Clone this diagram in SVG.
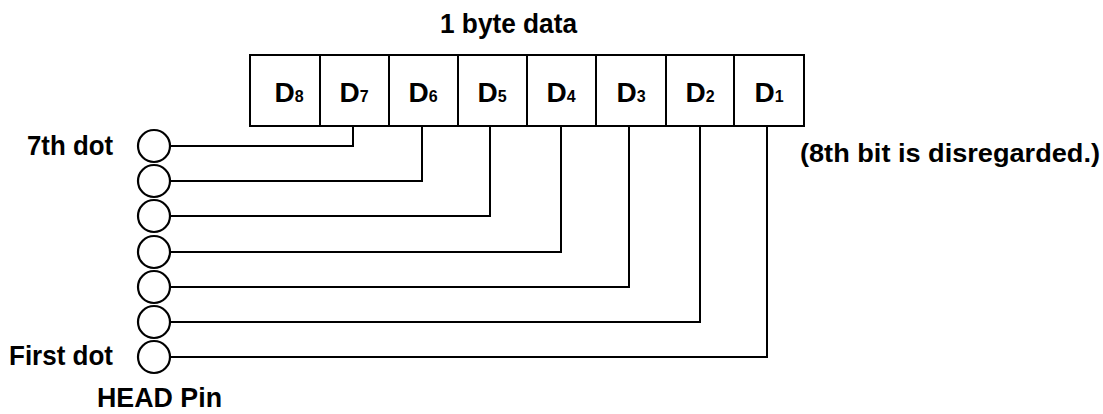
<svg xmlns="http://www.w3.org/2000/svg" width="1103" height="414" viewBox="0 0 1103 414">
<style>
text{font-family:"Liberation Sans",Arial,sans-serif;font-weight:bold;fill:#000}
.lbl{font-size:28px}
.note{font-size:26px}
.d{font-size:28px}
.s{font-size:16px}
.cell{fill:#fff;stroke:#000;stroke-width:2}
.pin{fill:#fff;stroke:#000;stroke-width:2.2}
.wire{fill:none;stroke:#000;stroke-width:2}
</style>
<rect width="1103" height="414" fill="#fff"/>
<text class="lbl" x="440" y="33" textLength="137" lengthAdjust="spacingAndGlyphs">1 byte data</text>
<g id="byte">
<g id="cell-d8"><rect class="cell" x="250" y="55" width="70" height="71"/><text class="d" x="289" y="102" text-anchor="middle">D<tspan class="s">8</tspan></text></g>
<g id="cell-d7"><rect class="cell" x="320" y="55" width="69" height="71"/><text class="d" x="354" y="102" text-anchor="middle">D<tspan class="s">7</tspan></text></g>
<g id="cell-d6"><rect class="cell" x="389" y="55" width="69" height="71"/><text class="d" x="423" y="102" text-anchor="middle">D<tspan class="s">6</tspan></text></g>
<g id="cell-d5"><rect class="cell" x="458" y="55" width="69" height="71"/><text class="d" x="492" y="102" text-anchor="middle">D<tspan class="s">5</tspan></text></g>
<g id="cell-d4"><rect class="cell" x="527" y="55" width="69" height="71"/><text class="d" x="561" y="102" text-anchor="middle">D<tspan class="s">4</tspan></text></g>
<g id="cell-d3"><rect class="cell" x="596" y="55" width="70" height="71"/><text class="d" x="631" y="102" text-anchor="middle">D<tspan class="s">3</tspan></text></g>
<g id="cell-d2"><rect class="cell" x="666" y="55" width="68" height="71"/><text class="d" x="700" y="102" text-anchor="middle">D<tspan class="s">2</tspan></text></g>
<g id="cell-d1"><rect class="cell" x="734" y="55" width="70" height="71"/><text class="d" x="769" y="102" text-anchor="middle">D<tspan class="s">1</tspan></text></g>
</g>
<g id="connectors">
<polyline class="wire" points="170,146 353,146 353,126"/>
<polyline class="wire" points="170,181 422,181 422,126"/>
<polyline class="wire" points="170,216 490,216 490,126"/>
<polyline class="wire" points="170,252 561,252 561,126"/>
<polyline class="wire" points="170,287 629,287 629,126"/>
<polyline class="wire" points="170,322 700,322 700,126"/>
<polyline class="wire" points="170,357 767,357 767,126"/>
</g>
<g id="pins">
<g id="pin7"><circle class="pin" cx="154" cy="146" r="16"/></g>
<g id="pin6"><circle class="pin" cx="154" cy="181" r="16"/></g>
<g id="pin5"><circle class="pin" cx="154" cy="216" r="16"/></g>
<g id="pin4"><circle class="pin" cx="154" cy="252" r="16"/></g>
<g id="pin3"><circle class="pin" cx="154" cy="287" r="16"/></g>
<g id="pin2"><circle class="pin" cx="154" cy="322" r="16"/></g>
<g id="pin1"><circle class="pin" cx="154" cy="357" r="16"/></g>
</g>
<text class="lbl" x="27" y="155" textLength="86" lengthAdjust="spacingAndGlyphs">7th dot</text>
<text class="lbl" x="9" y="365" textLength="104" lengthAdjust="spacingAndGlyphs">First dot</text>
<text class="lbl" x="97" y="407" textLength="125" lengthAdjust="spacingAndGlyphs">HEAD Pin</text>
<text class="note" x="800" y="162" textLength="300" lengthAdjust="spacingAndGlyphs">(8th bit is disregarded.)</text>
</svg>
